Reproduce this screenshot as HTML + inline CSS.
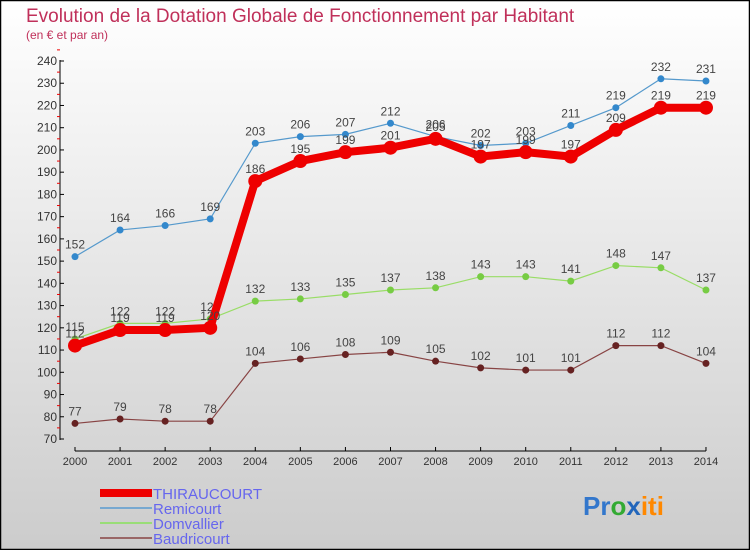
<!DOCTYPE html>
<html><head><meta charset="utf-8"><style>
html,body{margin:0;padding:0}
body{width:750px;height:550px;overflow:hidden;font-family:"Liberation Sans",sans-serif}
</style></head><body>
<svg id="chart" width="750" height="550" xmlns="http://www.w3.org/2000/svg">
<defs><linearGradient id="bg" x1="0" y1="0" x2="0" y2="1"><stop offset="0" stop-color="#ffffff"/><stop offset="1" stop-color="#cccccc"/></linearGradient></defs>
<rect x="0.5" y="0.5" width="749" height="549" fill="url(#bg)" stroke="#000" stroke-width="1.5"/>
<text x="26" y="22" font-size="19" fill="#c0305a">Evolution de la Dotation Globale de Fonctionnement par Habitant</text>
<text x="26" y="39" font-size="12" fill="#c0305a">(en € et par an)</text>
<g id="axes"></g><g id="series"></g>
<g>
<rect x="100" y="489" width="52" height="8" fill="#ee0000"/><text x="153" y="499" font-size="15" fill="#6666ee" textLength="109" lengthAdjust="spacingAndGlyphs">THIRAUCOURT</text>
<rect x="100" y="507" width="52" height="2" fill="#77a8d0"/><text x="153" y="514" font-size="15" fill="#6666ee">Remicourt</text>
<rect x="100" y="522" width="52" height="2" fill="#99dd77"/><text x="153" y="529" font-size="15" fill="#6666ee">Domvallier</text>
<rect x="100" y="537" width="52" height="2" fill="#996666"/><text x="153" y="544" font-size="15" fill="#6666ee">Baudricourt</text>
</g>
<text x="583" y="515" font-size="26" font-weight="bold"><tspan fill="#3377cc">Pr</tspan><tspan fill="#33aa33">o</tspan><tspan fill="#2266bb">x</tspan><tspan fill="#ff8800">iti</tspan></text>
</svg>
<script>
const years=["2000","2001","2002","2003","2004","2005","2006","2007","2008","2009","2010","2011","2012","2013","2014"];
const thiraucourt=[112,119,119,120,186,195,199,201,205,197,199,197,209,219,219];
const remicourt=[152,164,166,169,203,206,207,212,206,202,203,211,219,232,231];
const domvallier=[115,122,122,124,132,133,135,137,138,143,143,141,148,147,137];
const baudricourt=[77,79,78,78,104,106,108,109,105,102,101,101,112,112,104];
const yTicks=[70,80,90,100,110,120,130,140,150,160,170,180,190,200,210,220,230,240];
const NS="http://www.w3.org/2000/svg";
const X=i=>75+i*45.07, Y=v=>439-(v-70)*(378/170);
function el(t,a,p){const e=document.createElementNS(NS,t);for(const k in a)e.setAttribute(k,a[k]);p.appendChild(e);return e;}
const ax=document.getElementById('axes');
let a=el('line',{x1:60,y1:60,x2:60,y2:440,stroke:'#000'},ax);


yTicks.forEach(v=>{
 el('line',{x1:60,y1:Y(v),x2:64,y2:Y(v),stroke:'#000'},ax);
 el('line',{x1:57,y1:Y(v+5),x2:60,y2:Y(v+5),stroke:'#e00'},ax);
 const t=el('text',{x:57,y:Y(v)+4,'font-size':12,'text-anchor':'end',fill:'#333'},ax);t.textContent=v;
 
 
});
let b=el('line',{x1:X(0),y1:451,x2:X(14),y2:451,stroke:'#000'},ax);


years.forEach((y,i)=>{
 el('line',{x1:X(i),y1:447,x2:X(i),y2:451,stroke:'#000'},ax);
 const t=el('text',{x:X(i),y:465,'font-size':11,'text-anchor':'middle',fill:'#333'},ax);t.textContent=y;
 
 
});
const sg=document.getElementById('series');
function series(name,vals,color,dot,w,r){
 const g=el('g',{},sg);
 
 
 el('polyline',{points:vals.map((v,i)=>X(i)+','+Y(v)).join(' '),fill:'none',stroke:color,'stroke-width':w},g);
 vals.forEach((v,i)=>{
  const c=el('circle',{cx:X(i),cy:Y(v),r:r,fill:dot},g);
  
  
  const t=el('text',{x:X(i),y:Y(v)-8,'font-size':12,'text-anchor':'middle',fill:'#444'},g);t.textContent=v;
  
  
 });
}
series('baudricourt',baudricourt,'#884444','#662222',1.2,3.5);
series('domvallier',domvallier,'#99dd66','#77cc44',1.2,3.5);
series('remicourt',remicourt,'#5599cc','#3388cc',1.2,3.5);
series('thiraucourt',thiraucourt,'#ee0000','#ee0000',8,7);
</script>
</body></html>
